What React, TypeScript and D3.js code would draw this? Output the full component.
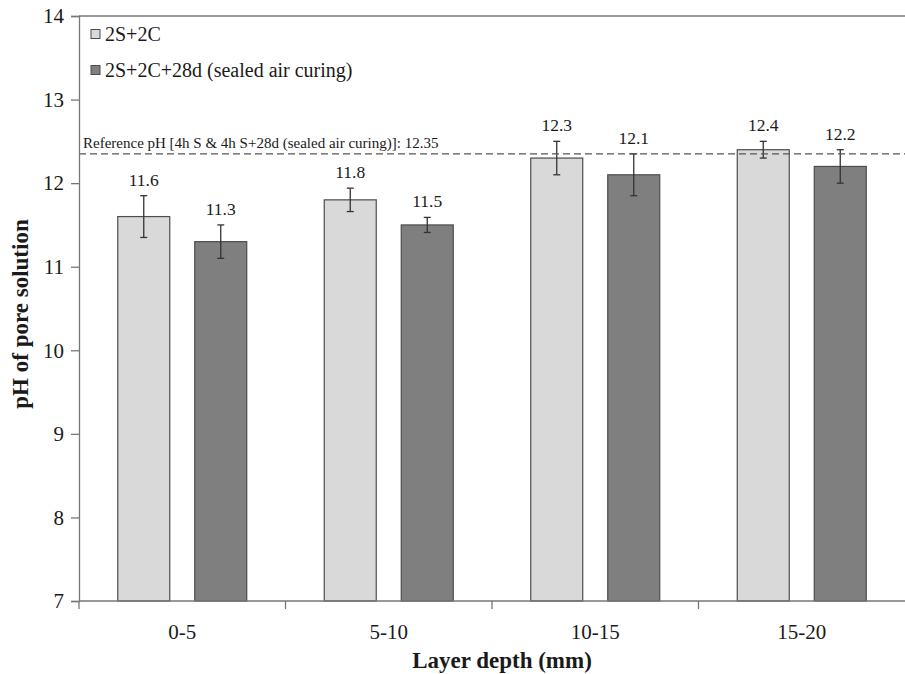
import React, { useEffect, useRef } from 'react';
import * as d3 from 'd3';

const categories = ['0-5', '5-10', '10-15', '15-20'];
const seriesNames = ['2S+2C', '2S+2C+28d (sealed air curing)'];
const series1 = [11.6, 11.8, 12.3, 12.4];
const series2 = [11.3, 11.5, 12.1, 12.2];
const errors1 = [0.25, 0.14, 0.2, 0.1];
const errors2 = [0.2, 0.09, 0.25, 0.2];
const yTicks = [7, 8, 9, 10, 11, 12, 13, 14];
const referencePH = 12.35;
const referenceLabel = 'Reference pH [4h S & 4h S+28d (sealed air curing)]: 12.35';

const colors = ['#d9d9d9', '#7f7f7f'];
const font = '"Liberation Serif", serif';

const App = () => {
  const svgRef = useRef<SVGSVGElement>(null);

  useEffect(() => {
    const W = 905;
    const H = 674;
    const margin = { top: 16, right: 0, bottom: 73, left: 79 };

    const svg = d3.select(svgRef.current).attr('width', W).attr('height', H);
    svg.selectAll('*').remove();

    const x = d3
      .scaleBand()
      .domain(categories)
      .range([margin.left, W - margin.right]);

    const y = d3.scaleLinear().domain([7, 14]).range([H - margin.bottom, margin.top]);

    const barW = 52;
    const gap = 25;
    const offsets = [-(gap / 2) - barW, gap / 2];

    const data = [
      { values: series1, errors: errors1 },
      { values: series2, errors: errors2 },
    ];

    const g = svg.append('g');
    const txt = (sel: any) => sel.attr('font-family', font).attr('fill', '#1a1a1a');

    // bars
    data.forEach((s, si) => {
      categories.forEach((c, i) => {
        const cx = x(c)! + x.bandwidth() / 2;
        const bx = cx + offsets[si];
        const v = s.values[i];
        const e = s.errors[i];
        g.append('rect')
          .attr('x', bx)
          .attr('y', y(v))
          .attr('width', barW)
          .attr('height', y(7) - y(v))
          .attr('fill', colors[si])
          .attr('stroke', '#4d4d4d')
          .attr('stroke-width', 1.2);

        const ex = bx + barW / 2;
        const eg = g.append('g').attr('stroke', '#333').attr('stroke-width', 1.3);
        eg.append('line').attr('x1', ex).attr('x2', ex).attr('y1', y(v + e)).attr('y2', y(v - e));
        eg.append('line').attr('x1', ex - 3.5).attr('x2', ex + 3.5).attr('y1', y(v + e)).attr('y2', y(v + e));
        eg.append('line').attr('x1', ex - 3.5).attr('x2', ex + 3.5).attr('y1', y(v - e)).attr('y2', y(v - e));

        g.append('text')
          .call(txt)
          .attr('x', ex)
          .attr('y', y(v + e) - 10)
          .attr('text-anchor', 'middle')
          .attr('font-size', 17.5)
          .text(v.toFixed(1));
      });
    });

    // reference line
    g.append('line')
      .attr('x1', margin.left)
      .attr('x2', W - margin.right)
      .attr('y1', y(referencePH))
      .attr('y2', y(referencePH))
      .attr('stroke', '#555')
      .attr('stroke-width', 1.3)
      .attr('stroke-dasharray', '7,4');
    g.append('text')
      .call(txt)
      .attr('x', margin.left + 4)
      .attr('y', y(referencePH) - 6)
      .attr('font-size', 15)
      .text(referenceLabel);

    // top frame line
    g.append('line')
      .attr('x1', margin.left)
      .attr('x2', W)
      .attr('y1', margin.top)
      .attr('y2', margin.top)
      .attr('stroke', '#777')
      .attr('stroke-width', 1.3);

    // y axis
    const yAxis = g
      .append('g')
      .attr('transform', `translate(${margin.left},0)`)
      .call(d3.axisLeft(y).tickValues(yTicks).tickSize(8).tickPadding(7).tickFormat(d3.format('d')));
    yAxis.attr('font-family', font);
    yAxis.select('.domain').attr('stroke', '#777').attr('stroke-width', 1.3);
    yAxis.selectAll('.tick line').attr('stroke', '#777').attr('stroke-width', 1.3);
    yAxis.selectAll('text').call(txt).attr('font-size', 21);

    // x axis
    const xAxis = g.append('g').attr('transform', `translate(0,${y(7)})`);
    xAxis.append('line')
      .attr('x1', margin.left)
      .attr('x2', W)
      .attr('stroke', '#777')
      .attr('stroke-width', 1.3);
    categories.forEach((c) => {
      xAxis.append('line')
        .attr('x1', x(c)!)
        .attr('x2', x(c)!)
        .attr('y1', 0)
        .attr('y2', 8)
        .attr('stroke', '#777')
        .attr('stroke-width', 1.3);
      xAxis.append('text')
        .call(txt)
        .attr('x', x(c)! + x.bandwidth() / 2)
        .attr('y', 38)
        .attr('text-anchor', 'middle')
        .attr('font-size', 21)
        .text(c);
    });

    // axis titles
    g.append('text')
      .call(txt)
      .attr('x', 502)
      .attr('y', 668)
      .attr('text-anchor', 'middle')
      .attr('font-size', 23)
      .attr('font-weight', 'bold')
      .text('Layer depth (mm)');

    g.append('text')
      .call(txt)
      .attr('transform', `translate(28,314) rotate(-90)`)
      .attr('text-anchor', 'middle')
      .attr('font-size', 23)
      .attr('font-weight', 'bold')
      .text('pH of pore solution');

    // legend
    const legend = g.append('g').attr('transform', `translate(91,${margin.top})`);
    seriesNames.forEach((name, i) => {
      const ly = 18 + i * 36;
      legend.append('rect')
        .attr('x', 0)
        .attr('y', ly - 4.5)
        .attr('width', 9)
        .attr('height', 9)
        .attr('fill', colors[i])
        .attr('stroke', '#4d4d4d')
        .attr('stroke-width', 1);
      legend.append('text')
        .call(txt)
        .attr('x', 14)
        .attr('y', ly)
        .attr('dy', '0.35em')
        .attr('font-size', 20)
        .text(name);
    });
  }, []);

  return (
    <div style={{ position: 'absolute', left: 0, top: 0 }}>
      <svg ref={svgRef} style={{ display: 'block', background: '#fff' }}></svg>
    </div>
  );
};

export default App;
